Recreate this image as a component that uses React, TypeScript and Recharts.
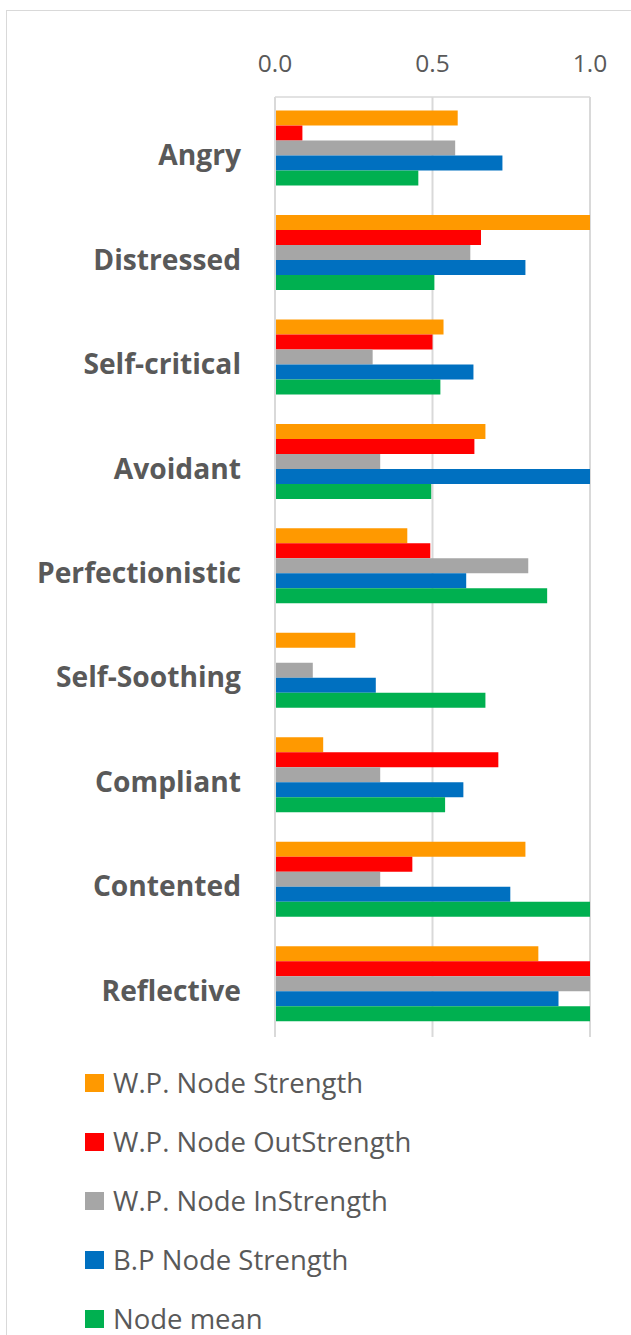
import { BarChart, Bar, XAxis, YAxis, CartesianGrid, Legend } from 'recharts'

const categories = [
  'Angry',
  'Distressed',
  'Self-critical',
  'Avoidant',
  'Perfectionistic',
  'Self-Soothing',
  'Compliant',
  'Contented',
  'Reflective',
]

const wpStrength = [0.58, 1.0, 0.535, 0.668, 0.42, 0.255, 0.153, 0.795, 0.836]
const wpOutStrength = [0.087, 0.654, 0.5, 0.633, 0.493, 0, 0.709, 0.436, 1.0]
const wpInStrength = [0.572, 0.62, 0.31, 0.334, 0.804, 0.12, 0.334, 0.334, 1.0]
const bpStrength = [0.722, 0.795, 0.63, 1.0, 0.607, 0.32, 0.598, 0.747, 0.9]
const nodeMean = [0.455, 0.506, 0.525, 0.496, 0.864, 0.668, 0.54, 1.0, 1.0]

const xTicks = [0, 0.5, 1]

const SERIES = [
  { key: 'wpStrength', name: 'W.P. Node Strength', color: '#ff9900', values: wpStrength },
  { key: 'wpOut', name: 'W.P. Node OutStrength', color: '#ff0000', values: wpOutStrength },
  { key: 'wpIn', name: 'W.P. Node InStrength', color: '#a6a6a6', values: wpInStrength },
  { key: 'bpStrength', name: 'B.P Node Strength', color: '#0070c0', values: bpStrength },
  { key: 'mean', name: 'Node mean', color: '#00b050', values: nodeMean },
]

const data = categories.map((name, i) => {
  const row: Record<string, string | number> = { name }
  SERIES.forEach(s => {
    row[s.key] = s.values[i]
  })
  return row
})

const FONT = '"Open Sans", "DejaVu Sans", sans-serif'
const TEXT = '#595959'
const GRID = '#d9d9d9'

function LegendBox() {
  return (
    <div style={{ width: 631, height: 298, boxSizing: 'border-box', paddingTop: 16, fontFamily: FONT }}>
      {SERIES.map(s => (
        <div key={s.key} style={{ height: 59, display: 'flex', alignItems: 'center' }}>
          <div style={{ width: 19, height: 18, marginLeft: 85, background: s.color }} />
          <span style={{ marginLeft: 9, fontSize: 27.5, color: TEXT, lineHeight: 1 }}>{s.name}</span>
        </div>
      ))}
    </div>
  )
}

export default function App() {
  return (
    <div style={{ position: 'absolute', left: 0, top: 0, width: 631, height: 1335, overflow: 'hidden', background: '#fff' }}>
      <div
        style={{
          position: 'absolute',
          left: 6,
          top: 10,
          width: 700,
          height: 1400,
          border: `1px solid ${GRID}`,
        }}
      />
      <div style={{ position: 'absolute', left: 0, top: 0 }}>
        <BarChart
          width={631}
          height={1335}
          data={data}
          layout="vertical"
          margin={{ top: 47, right: 41, left: 0, bottom: 0 }}
          barCategoryGap="13%"
          barGap={0}
        >
          <CartesianGrid horizontal={false} stroke={GRID} strokeWidth={2} />
          <XAxis
            type="number"
            orientation="top"
            domain={[0, 1]}
            ticks={xTicks}
            tickFormatter={(v: number) => v.toFixed(1)}
            height={50}
            tickLine={false}
            tickSize={0}
            tickMargin={25}
            axisLine={{ stroke: GRID, strokeWidth: 1.5 }}
            tick={{ fill: TEXT, fontSize: 24.5, fontFamily: FONT }}
          />
          <XAxis
            xAxisId="bottom"
            type="number"
            orientation="bottom"
            domain={[0, 1]}
            height={0}
            tick={false}
            tickLine={false}
            axisLine={{ stroke: GRID, strokeWidth: 1.5 }}
          />
          <YAxis
            type="category"
            dataKey="name"
            width={275}
            tickLine={false}
            tickSize={0}
            tickMargin={34}
            axisLine={{ stroke: GRID, strokeWidth: 2 }}
            tick={{ fill: TEXT, fontSize: 28.2, fontWeight: 700, fontFamily: FONT, dy: 6 }}
            interval={0}
          />
          <Legend
            layout="vertical"
            verticalAlign="bottom"
            align="center"
            wrapperStyle={{ left: 0 }}
            content={() => <LegendBox />}
          />
          {SERIES.map(s => (
            <Bar
              key={s.key}
              dataKey={s.key}
              name={s.name}
              fill={s.color}
              isAnimationActive={false}
            />
          ))}
        </BarChart>
      </div>
    </div>
  )
}
